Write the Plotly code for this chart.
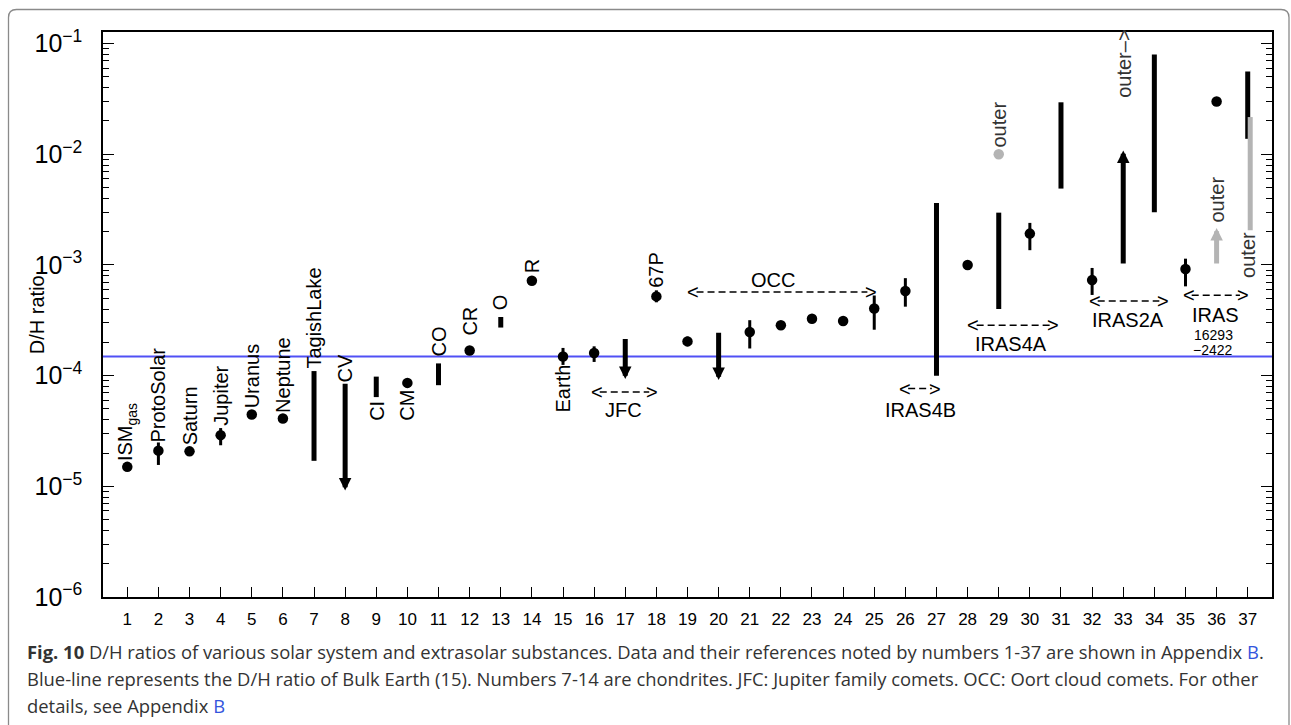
import math
import plotly.graph_objects as go

# ---------------- data ----------------
x_ticks = list(range(1, 38))
x_tick_text = [str(v) for v in x_ticks]
y_ticks = [1e-6, 1e-5, 1e-4, 1e-3, 1e-2, 1e-1]   # labelled decades (shown as powers of ten)

# points with markers: index, D/H value, lower / upper end of the error bar
pt_idx = [1, 2, 3, 4, 5, 6, 10, 12, 14, 15, 16, 18, 19, 21, 22, 23, 24, 25, 26, 28, 30, 32, 35, 36]
pt_val = [1.5e-5, 2.1e-5, 2.07e-5, 2.9e-5, 4.45e-5, 4.1e-5, 8.6e-5, 1.69e-4, 7.2e-4, 1.49e-4,
          1.6e-4, 5.2e-4, 2.04e-4, 2.48e-4, 2.85e-4, 3.27e-4, 3.12e-4, 4.04e-4, 5.82e-4, 1.0e-3,
          1.92e-3, 7.3e-4, 9.2e-4, 3.0e-2]
pt_lo = [1.5e-5, 1.56e-5, 2.07e-5, 2.35e-5, 4.45e-5, 4.1e-5, 8.6e-5, 1.69e-4, 7.2e-4, 1.25e-4,
         1.33e-4, 4.6e-4, 1.85e-4, 1.76e-4, 2.85e-4, 3.27e-4, 2.9e-4, 2.6e-4, 4.2e-4, 1.0e-3,
         1.36e-3, 5.36e-4, 6.41e-4, 3.0e-2]
pt_hi = [1.5e-5, 2.49e-5, 2.07e-5, 3.36e-5, 4.45e-5, 4.1e-5, 8.6e-5, 1.69e-4, 7.2e-4, 1.78e-4,
         1.84e-4, 5.9e-4, 2.25e-4, 3.17e-4, 2.85e-4, 3.27e-4, 3.4e-4, 5.3e-4, 7.6e-4, 1.0e-3,
         2.4e-3, 9.4e-4, 1.14e-3, 3.0e-2]

# grey ("outer") point
outer_pt_idx = [29]
outer_pt_val = [1.0e-2]

# ranges drawn as thick bars
bar_idx = [7, 9, 11, 13, 27, 29, 31, 34, 37]
bar_lo = [1.7e-5, 6.4e-5, 8.2e-5, 2.72e-4, 1.0e-4, 4.0e-4, 4.9e-3, 3.0e-3, 1.38e-2]
bar_hi = [1.1e-4, 9.8e-5, 1.29e-4, 3.39e-4, 3.63e-3, 2.97e-3, 2.95e-2, 7.98e-2, 5.6e-2]

# grey ("outer") range bar
outer_bar_idx = [37.08]
outer_bar_lo = [2.06e-3]
outer_bar_hi = [2.17e-2]

# limits drawn as arrows (start -> arrow tip)
lim_idx = [8, 17, 20, 33]
lim_from = [8.7e-5, 2.21e-4, 2.52e-4, 1.0e-3]
lim_to = [8.6e-6, 8.77e-5, 8.6e-5, 1.15e-2]

outer_lim_idx = [36]
outer_lim_from = [1.0e-3]
outer_lim_to = [2.3e-3]

# rotated labels: text, x index, reference value, side, pixel gap
lab_text = ["ISM<sub>gas</sub>", "ProtoSolar", "Saturn", "Jupiter", "Uranus", "Neptune",
            "TagishLake", "CV", "CI", "CM", "CO", "CR", "O", "R", "Earth", "67P",
            "outer", "outer\u2013>", "outer", "outer"]
lab_x = [1, 2, 3, 4, 5, 6, 7, 8, 9, 10, 11, 12, 13, 14, 15, 18, 29, 33, 36, 37.03]
lab_ref = [1.5e-5, 2.1e-5, 2.07e-5, 2.9e-5, 4.45e-5, 4.1e-5, 1.1e-4, 8.7e-5, 6.4e-5, 8.6e-5,
           1.29e-4, 1.69e-4, 3.39e-4, 7.2e-4, 1.49e-4, 5.2e-4, 1.0e-2, 1.15e-2, 2.3e-3, 2.06e-3]
lab_side = ["a", "a", "a", "a", "a", "a", "a", "a", "b", "b", "a", "a", "a", "a", "b", "a",
            "a", "a", "a", "b"]
lab_gap = [4, 6, 4, 7, 4, 3.5, 0, -2, 1.5, 5, 4.5, 13, 4.5, 5.5, 6, 7, 4.5, 48, 0, 0]
lab_color = ["black"] * 16 + ["#333333"] * 4

# group ranges: name, x start, x end, D/H level of the arrow, D/H level of the name
grp_name = ["JFC", "OCC", "IRAS4B", "IRAS4A", "IRAS2A", "IRAS"]
grp_x0 = [15.82, 18.93, 25.73, 27.93, 31.82, 34.84]
grp_x1 = [18.13, 25.14, 27.21, 31.0, 34.52, 37.11]
grp_arrow_y = [7.11e-5, 5.70e-4, 7.64e-5, 2.85e-4, 4.72e-4, 5.32e-4]
grp_text_y = [4.93e-5, 7.38e-4, 4.93e-5, 1.95e-4, 3.21e-4, 3.51e-4]
grp_name_x = [16.93, 21.75, 26.48, 29.4, 33.16, 35.96]
grp_sub_text = ["16293", "\u22122422"]
grp_sub_x = [35.9, 35.9]
grp_sub_y = [2.31e-4, 1.69e-4]

# ---------------- layout geometry ----------------
W, H = 1291, 725
ML, MR, MT, MB = 103, 19, 32, 128
PW, PH = W - ML - MR, H - MT - MB
XR = [0.22, 37.78]
YR = [-6, -0.895]


def pxx(px):
    return (px - ML) / PW


def pxy(py):
    return (H - MB - py) / PH


FONT = "Liberation Sans"
BLACK = "black"
GREY = "#b4b4b4"

fig = go.Figure()

# range bars
bx, by = [], []
for xi, lo, hi in zip(bar_idx, bar_lo, bar_hi):
    bx += [xi, xi, None]
    by += [lo, hi, None]
fig.add_trace(go.Scatter(x=bx, y=by, mode="lines", line=dict(color=BLACK, width=5),
                         hoverinfo="skip", showlegend=False))

gx, gy = [], []
for xi, lo, hi in zip(outer_bar_idx, outer_bar_lo, outer_bar_hi):
    gx += [xi, xi, None]
    gy += [lo, hi, None]
fig.add_trace(go.Scatter(x=gx, y=gy, mode="lines", line=dict(color=GREY, width=5),
                         hoverinfo="skip", showlegend=False))

# points with error bars
fig.add_trace(go.Scatter(
    x=pt_idx, y=pt_val, mode="markers",
    marker=dict(size=10.5, color=BLACK),
    error_y=dict(type="data", symmetric=False,
                 array=[h - v for h, v in zip(pt_hi, pt_val)],
                 arrayminus=[v - l for v, l in zip(pt_val, pt_lo)],
                 thickness=3, width=0, color=BLACK),
    showlegend=False))

fig.add_trace(go.Scatter(x=outer_pt_idx, y=outer_pt_val, mode="markers",
                         marker=dict(size=10.5, color=GREY), showlegend=False))

annotations = []

# limit arrows
for idxs, f, t, col in [(lim_idx, lim_from, lim_to, BLACK),
                        (outer_lim_idx, outer_lim_from, outer_lim_to, GREY)]:
    for xi, a, b in zip(idxs, f, t):
        annotations.append(dict(x=xi, y=math.log10(b), ax=xi, ay=math.log10(a),
                                xref="x", yref="y", axref="x", ayref="y",
                                text="", showarrow=True, arrowhead=2, arrowsize=0.5,
                                arrowwidth=5, arrowcolor=col, standoff=3))

# rotated labels
for txt, xi, ref, side, gap, col in zip(lab_text, lab_x, lab_ref, lab_side, lab_gap, lab_color):
    annotations.append(dict(x=xi, y=math.log10(ref), xref="x", yref="y", text=txt,
                            textangle=-90, showarrow=False, xanchor="center",
                            yanchor="bottom" if side == "a" else "top",
                            yshift=gap if side == "a" else -gap,
                            font=dict(family=FONT, size=20, color=col)))

# group ranges  (<- - - - ->)
shapes = []
for name, x0, x1, ya, yt, xn in zip(grp_name, grp_x0, grp_x1, grp_arrow_y, grp_text_y, grp_name_x):
    annotations.append(dict(x=x0, y=math.log10(ya), xref="x", yref="y", text="&lt;",
                            showarrow=False, xanchor="left", yanchor="middle",
                            font=dict(family=FONT, size=20, color=BLACK)))
    annotations.append(dict(x=x1, y=math.log10(ya), xref="x", yref="y", text="&gt;",
                            showarrow=False, xanchor="right", yanchor="middle",
                            font=dict(family=FONT, size=20, color=BLACK)))
    shapes.append(dict(type="line", xref="x", yref="y", x0=x0 + 0.36, x1=x1 - 0.36,
                       y0=ya, y1=ya, line=dict(color=BLACK, width=1.5, dash="7px,4px")))
    annotations.append(dict(x=xn, y=math.log10(yt), xref="x", yref="y", text=name,
                            showarrow=False, xanchor="center", yanchor="middle",
                            font=dict(family=FONT, size=20, color=BLACK)))
for txt, xi, yi in zip(grp_sub_text, grp_sub_x, grp_sub_y):
    annotations.append(dict(x=xi, y=math.log10(yi), xref="x", yref="y", text=txt,
                            showarrow=False, xanchor="center", yanchor="middle",
                            font=dict(family=FONT, size=14, color=BLACK)))

# Bulk Earth reference line (value of point 15)
earth = pt_val[pt_idx.index(15)]
shapes.append(dict(type="line", xref="x", yref="y", x0=XR[0], x1=XR[1],
                   y0=earth, y1=earth, line=dict(color="#5050f5", width=2), layer="below"))

# rounded figure frame
l, r, t, b = pxx(8.5), pxx(1289), pxy(9.5), pxy(760)
rx, ry = 8 / PW, 8 / PH
path = (f"M {l},{b} L {l},{t - ry} Q {l},{t} {l + rx},{t} L {r - rx},{t} "
        f"Q {r},{t} {r},{t - ry} L {r},{b}")
shapes.append(dict(type="path", xref="paper", yref="paper", path=path,
                   line=dict(color="#8a8a8a", width=1.3)))

# y-axis title
annotations.append(dict(x=pxx(36.7), y=0.5, xref="paper", yref="paper", text="D/H ratio",
                        textangle=-90, showarrow=False, xanchor="center", yanchor="middle",
                        font=dict(family=FONT, size=20, color=BLACK)))

# caption
BLUE = "#3355dd"
cap_lines = [
    "<b>Fig. 10</b> D/H ratios of various solar system and extrasolar substances. Data and their "
    "references noted by numbers 1-37 are shown in Appendix <span style='color:" + BLUE + "'>B</span>.",
    "Blue-line represents the D/H ratio of Bulk Earth (15). Numbers 7-14 are chondrites. "
    "JFC: Jupiter family comets. OCC: Oort cloud comets. For other",
    "details, see Appendix <span style='color:" + BLUE + "'>B</span>",
]
cap_y = [651.7, 678.3, 705]
for txt, yy in zip(cap_lines, cap_y):
    annotations.append(dict(x=pxx(25), y=pxy(yy), xref="paper", yref="paper", text=txt,
                            showarrow=False, xanchor="left", yanchor="middle", align="left",
                            font=dict(family="Open Sans", size=18.4, color="#333333")))

fig.update_layout(
    width=W, height=H,
    margin=dict(l=ML, r=MR, t=MT, b=MB, pad=0),
    paper_bgcolor="white", plot_bgcolor="white",
    font=dict(family=FONT, color=BLACK),
    showlegend=False,
    annotations=annotations,
    shapes=shapes,
    xaxis=dict(range=XR, tickmode="array", tickvals=x_ticks, ticktext=x_tick_text,
               ticks="inside", ticklen=10, tickwidth=1.2, tickcolor=BLACK,
               showline=True, linecolor=BLACK, linewidth=1.5, mirror=True,
               showgrid=False, zeroline=False, ticklabelstandoff=6,
               tickfont=dict(family=FONT, size=17, color=BLACK)),
    yaxis=dict(type="log", range=YR, tickmode="linear", tick0=math.log10(y_ticks[0]), dtick=1,
               exponentformat="power",
               ticks="inside", ticklen=11, tickwidth=1.2, tickcolor=BLACK,
               minor=dict(ticks="inside", ticklen=6, tickwidth=1, tickcolor=BLACK,
                          showgrid=False, dtick="D1"),
               showline=True, linecolor=BLACK, linewidth=1.5, mirror="allticks",
               showgrid=False, zeroline=False, ticklabelstandoff=15,
               tickfont=dict(family=FONT, size=20, color=BLACK)),
)

fig.write_html("out.html", config={"displayModeBar": False},
               post_script="document.body.style.margin='0px';document.body.style.overflow='hidden';")
